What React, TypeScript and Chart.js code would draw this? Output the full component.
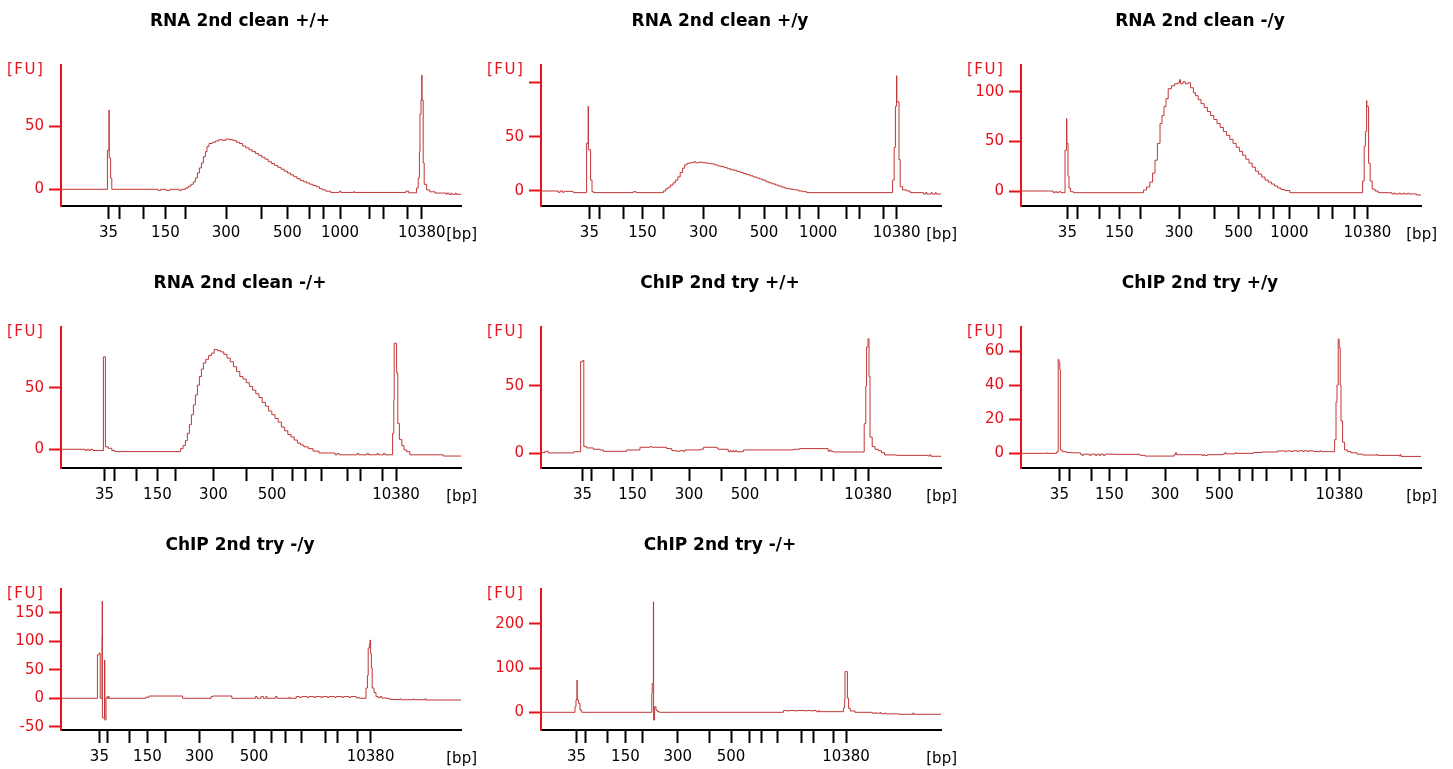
import React, { useEffect, useRef } from "react";
import { Chart, registerables } from "chart.js";

Chart.register(...registerables);

// ---------- DATA ----------
const titles = [
  "RNA 2nd clean +/+",
  "RNA 2nd clean +/y",
  "RNA 2nd clean -/y",
  "RNA 2nd clean -/+",
  "ChIP 2nd try +/+",
  "ChIP 2nd try +/y",
  "ChIP 2nd try -/y",
  "ChIP 2nd try -/+",
];

// ladder fragment sizes (bp)
const ladderSizes = [35, 50, 100, 150, 200, 300, 400, 500, 600, 700, 1000, 2000, 3000, 7000, 10380];
const labelledWith1000 = [35, 150, 300, 500, 1000, 10380];
const labelledWithout1000 = [35, 150, 300, 500, 10380];

// migration time (% of run) of each ladder fragment, per panel
const ladderRnaPP = [11.9, 14.5, 20.6, 26.1, 31.1, 41.25, 50, 56.6, 62.1, 65.6, 69.75, 77, 80.6, 86.5, 90.2];
const ladderRnaPY = [12.1, 14.5, 20.6, 25.4, 30.6, 40.6, 49.6, 55.75, 61.25, 64.6, 69.3, 76.25, 79.6, 85.6, 88.9];
const ladderRnaMY = [11.6, 14.1, 19.6, 24.6, 29.75, 39.5, 48.25, 54.4, 59.6, 63.1, 67.1, 74.25, 77.75, 83.25, 86.6];
const ladderRnaMP = [10.9, 13.25, 18.9, 24.1, 28.6, 38.1, 46.4, 52.75, 57.75, 61.1, 65.1, 71.6, 74.9, 80.4, 83.75];
const ladderChipPP = [10.4, 12.5, 18.1, 22.9, 27.5, 37, 45, 51, 56, 59.1, 63.5, 70, 73.1, 78.7, 81.8];
const ladderChipPY = [9.6, 12.1, 17.5, 22.1, 26.4, 36, 44.1, 49.6, 54.5, 57.75, 61.4, 67.5, 71, 76.4, 79.6];
const ladderChipMY = [9.6, 11.6, 17.1, 21.6, 26.2, 34.6, 42.75, 48.25, 52.5, 56.2, 60.2, 66.2, 69.2, 74.1, 77.4];
const ladderChipMP = [8.9, 11.2, 16.6, 21.1, 25.4, 34.2, 42.1, 47.5, 52.1, 55.2, 59.1, 65, 68.1, 73.1, 76.25];

// FU axis ranges and ticks
const yMins = [-13.3, -13.8, -15.1, -15.2, -10.9, -8.6, -55.5, -40];
const yMaxs = [99, 115.9, 126.9, 99.2, 93.8, 74.1, 191.4, 279];
const yTicksRnaPP = [0, 50];
const yTicksRnaPY = [0, 50, 100];
const yTicksRnaMY = [0, 50, 100];
const yTicksRnaMP = [0, 50];
const yTicksChipPP = [0, 50];
const yTicksChipPY = [0, 20, 40, 60];
const yTicksChipMY = [-50, 0, 50, 100, 150];
const yTicksChipMP = [0, 100, 200];
const yHiddenLabels = [[], [100], [], [], [], [], [], []];

// traces: [migration time (% of run), fluorescence (FU)]
const rnaPP: [number, number][] = [
  [0, 0], [11.6, 31], [12.0, 63], [12.05, 25], [12.4, 9], [12.7, 0],
  [24.3, -1], [24.9, 0], [26.3, -1], [27.2, 0], [29.6, -1], [30.1, 0],
  [31.1, 1], [31.8, 2.5], [32.5, 4], [33.1, 6], [33.6, 9], [34.1, 13], [34.6, 17], [35.1, 21], [35.6, 26],
  [36.1, 30], [36.5, 34], [37.0, 36.5], [37.8, 37.5], [38.6, 38.5], [39.4, 39.5], [40.4, 39], [41.2, 40],
  [42.2, 39.5], [43.0, 39], [43.8, 37.5], [44.6, 36.5], [45.4, 34.5], [46.2, 33], [47.0, 31.5], [47.8, 30],
  [48.6, 28.5], [49.4, 27], [50.2, 25.5], [51.0, 24], [51.8, 22], [52.6, 20.5], [53.4, 19], [54.2, 17.5],
  [55.0, 16], [55.8, 14.5], [56.6, 13], [57.4, 11.5], [58.2, 10], [59.0, 8.5], [59.8, 7], [60.6, 6],
  [61.4, 5], [62.2, 4], [63.0, 3], [63.8, 2], [64.6, 0.5], [65.4, -0.5], [66.2, -1.5], [67.4, -2.5],
  [69.6, -1.5], [70.0, -2.5], [73.2, -1.8], [73.4, -2.5], [86.2, -1.5], [86.9, -2.8],
  [88.9, 1], [89.3, 9], [89.6, 30], [89.75, 60], [90.0, 71], [90.2, 91], [90.25, 71], [90.55, 21], [90.8, 4],
  [91.4, -0.5], [92.2, -2], [93.5, -3], [96.3, -4], [96.5, -3], [97.0, -4], [97.5, -3], [97.7, -4],
  [98.6, -3], [98.8, -4], [100, -4],
];

const rnaPY: [number, number][] = [
  [0, 0], [4.3, -1.2], [4.8, 0], [5.4, -1.2], [5.8, -0.3], [8.0, -1.2], [8.3, -1.5],
  [11.4, 44], [11.8, 78], [11.85, 38], [12.4, 10], [12.75, -0.6], [13.1, -1.5],
  [23.1, -0.6], [23.75, -1.5],
  [30.6, 0], [31.2, 2], [31.8, 3.5], [32.4, 5.5], [33.0, 7.5], [33.6, 10], [34.2, 13], [34.8, 17], [35.4, 21],
  [35.9, 24], [36.5, 25.5], [37.3, 26], [38.2, 27], [38.6, 26], [39.5, 26.5], [40.4, 26], [41.4, 25.5],
  [42.4, 25], [43.4, 24], [44.2, 23], [45.0, 22.5], [45.8, 21.5], [46.6, 20.5], [47.4, 19.5], [48.2, 19],
  [49.0, 18], [49.8, 17], [50.6, 16], [51.4, 15], [52.2, 14], [53.0, 13], [53.8, 12], [54.6, 11], [55.4, 10],
  [56.2, 8.5], [57.0, 7.5], [57.8, 6.5], [58.6, 5.5], [59.4, 4.5], [60.2, 3.5], [61.0, 2.5], [61.8, 2],
  [62.6, 1.5], [63.4, 1], [64.4, 0], [65.4, -0.6], [66.4, -1.5],
  [87.9, 10], [88.3, 40], [88.6, 78], [88.9, 106], [88.95, 82], [89.5, 29], [89.8, 4], [90.4, 1], [91.4, 0],
  [92.3, -1.5], [95.6, -2.8], [96.2, -1.5], [96.5, -2.8], [97.5, -1.5], [97.8, -2.8], [98.6, -1.5],
  [98.8, -2.8], [100, -2.8],
];

const rnaMY: [number, number][] = [
  [0, 0], [8.1, -1.7], [8.5, -0.8], [9.0, -1.7], [9.4, -0.8], [10.0, -1.7],
  [11.0, 41], [11.4, 73], [11.45, 48], [11.75, 15], [12.0, 3], [12.4, -0.7], [13.1, -1.7],
  [30.6, 1], [31.4, 4], [32.2, 9], [32.9, 18], [33.5, 31], [34.1, 48], [34.75, 68], [35.25, 76], [35.75, 85],
  [36.25, 93], [36.8, 103], [37.6, 106], [38.4, 108], [39.2, 109], [39.6, 112], [39.9, 108], [40.5, 110],
  [41.1, 108], [41.7, 109], [42.4, 104], [43.1, 99], [43.6, 96], [44.3, 92], [45.0, 88], [45.8, 84],
  [46.6, 80], [47.4, 76], [48.2, 72], [49.0, 68], [49.8, 64], [50.6, 60], [51.4, 56], [52.2, 52], [53.0, 48],
  [53.8, 44], [54.6, 40], [55.4, 36], [56.2, 32], [57.0, 28], [57.8, 24], [58.6, 20], [59.4, 17],
  [60.2, 14], [61.0, 11], [61.8, 9], [62.6, 7], [63.4, 5], [64.2, 3], [65.0, 1.5], [66.0, 0.5], [67.2, -1.7],
  [85.4, 10], [85.8, 45], [86.1, 60], [86.4, 91], [86.45, 85], [86.9, 28], [87.3, 10], [87.8, 2], [88.5, 0],
  [89.3, -1.7], [92.7, -3], [93.2, -2], [93.5, -3], [94.5, -2.2], [94.8, -3], [95.5, -2.2], [95.8, -3],
  [96.7, -2.2], [97.0, -3], [98.9, -4], [100, -4],
];

const rnaMP: [number, number][] = [
  [0, 0], [6.1, -1], [6.5, 0], [7.0, -1], [7.4, 0], [8.0, -1],
  [10.6, 75], [11.1, 2], [11.8, 0.8], [12.7, -1], [13.5, -1.9],
  [29.9, 0.5], [30.5, 3], [31.1, 7], [31.6, 13], [32.1, 20], [32.6, 28], [33.1, 36], [33.6, 44], [34.1, 52],
  [34.6, 59], [35.1, 65], [35.6, 70], [36.2, 73], [36.9, 76], [37.6, 78], [38.3, 81], [39.1, 80], [39.9, 79],
  [40.7, 77], [41.5, 74], [42.3, 71], [43.1, 67], [43.9, 63], [44.7, 59], [45.5, 57], [46.3, 54], [47.1, 51],
  [47.9, 48], [48.7, 45], [49.5, 42], [50.3, 38], [51.1, 35], [51.9, 31], [52.7, 28], [53.5, 25], [54.3, 22],
  [55.1, 18], [55.9, 15], [56.7, 12], [57.5, 10], [58.3, 7.5], [59.1, 5], [59.9, 3.5], [60.7, 2], [61.8, 0.5],
  [63.0, -1.5], [64.5, -3], [68.5, -4.5], [69.0, -3.5], [69.6, -4.5], [74.0, -3.5], [74.4, -4.5],
  [76.5, -3.5], [76.9, -4.5], [79.0, -3.5], [79.4, -4.5], [80.6, -3.5], [81.0, -4.5],
  [82.9, 13], [83.2, 40], [83.3, 86], [83.9, 62], [84.2, 21], [84.6, 8], [85.2, 3], [85.75, -0.5], [86.4, -2],
  [87.2, -4.5], [95.6, -5.5], [100, -5.5],
];

const chipPP: [number, number][] = [
  [0, 0.5], [1.0, 1.5], [1.8, 0.3], [8.2, 1.2], [9.9, 68], [10.4, 69], [10.7, 5], [11.4, 4], [13.1, 3],
  [14.75, 2.5], [15.6, 1.5], [21.4, 2.5], [24.75, 4.5], [27.25, 5], [27.7, 4.5], [31.4, 3.5], [32.7, 2],
  [33.9, 1.5], [34.75, 2], [35.6, 1.5], [36.0, 2.5], [39.75, 3], [40.6, 4.5], [43.9, 4], [44.3, 3],
  [46.8, 1.2], [47.2, 2], [47.5, 1.2], [47.9, 2], [48.2, 1.2], [48.6, 2], [48.9, 1.2], [50.6, 2.5],
  [63.1, 3], [64.6, 3.5], [71.8, 1.5], [72.2, 2.5], [72.5, 1.5], [73.1, 1], [80.8, 22], [81.2, 50],
  [81.4, 79], [81.75, 85], [82.0, 57], [82.25, 12], [82.8, 5], [83.5, 3], [84.3, 2], [85.1, 0.5],
  [85.9, -1.2], [88.9, -1.5], [96.8, -2], [97.2, -1.2], [97.5, -2.2], [100, -2.5],
];

const chipPY: [number, number][] = [
  [0, 0], [6.5, 0.3], [6.6, 0], [8.9, 0.8], [9.3, 55], [9.5, 53], [9.7, 49], [9.85, 2], [10.3, 1], [11.4, 0.5],
  [12.5, 0.3], [14.9, -0.5], [15.3, -1.2], [15.6, -0.5], [17.1, -1.2], [17.5, -0.5], [18.6, -1.2], [19.0, -0.5],
  [19.6, -1.2], [19.9, -0.5], [20.6, -1.2], [21.0, -0.5], [23.3, -0.6], [29.8, -1.2], [31.0, -1.6],
  [38.3, -0.8], [38.6, 0.3], [38.9, -0.8], [45.3, -1.3], [45.7, -0.8], [46.0, -1.3], [46.6, -0.8],
  [50.6, -0.3], [51.0, 0.5], [51.2, -0.3], [53.5, 0.3], [53.8, 0], [58.1, 0.5], [60.3, 0.8], [64.2, 1.4],
  [66.0, 1], [66.4, 1.4], [67.5, 1.1], [68.0, 1.5], [69.0, 1.1], [69.4, 1.5], [70.5, 1.1], [70.8, 1.5],
  [71.6, 1.1], [72.0, 1.5], [73.1, 1], [74.7, 1.5], [75.0, 1],
  [78.4, 8], [78.75, 30], [79.0, 40], [79.3, 67], [79.55, 62], [79.8, 40], [80.0, 19], [80.4, 6.5],
  [80.9, 2], [81.6, 1], [82.5, 0.3], [84.0, -0.5], [85.5, -1], [88.9, -0.6], [89.1, -1.2], [94.5, -1.5],
  [94.8, -0.8], [95.0, -1.8], [100, -1.8],
];

const chipMY: [number, number][] = [
  [0, 0], [9.1, 76], [9.5, 79], [9.8, 0], [10.25, 108], [10.3, 170], [10.35, -34], [10.9, 67], [10.95, -38],
  [11.25, 0], [11.5, 3], [11.65, 0], [11.9, 3], [12.05, 0],
  [21.2, 2], [22.0, 4], [30.4, 0], [37.5, 3], [37.9, 4], [42.7, 0], [48.6, 3], [49.0, 0], [50.0, 3], [50.6, 0],
  [51.2, 3], [51.5, 0], [53.6, 3], [54.0, 0], [57.0, 2], [57.2, 0], [58.8, 3], [59.6, 1.5], [60.2, 3],
  [61.6, 1.5], [62.0, 3], [63.2, 1.5], [63.6, 3], [65.0, 1.5], [65.4, 3], [66.6, 1.5], [67.0, 3],
  [68.4, 1.5], [68.8, 3], [70.2, 1.5], [70.6, 3], [72.0, 1.5], [72.4, 3], [73.8, 1], [74.7, 0],
  [76.25, 18], [76.6, 40], [76.8, 88], [77.1, 95], [77.25, 102], [77.4, 78], [77.6, 53], [77.8, 18],
  [78.25, 10], [78.75, 3], [79.3, 1], [79.75, 3], [80.2, 0.5], [81.5, -0.5], [82.3, -2], [84.75, -1],
  [85.0, -2.5], [88.1, -1], [88.3, -2.5], [91.0, -1], [91.25, -3], [100, -3],
];

const chipMP: [number, number][] = [
  [0, 0], [8.5, 12.7], [8.75, 28], [9.0, 73], [9.05, 28], [9.4, 20], [9.75, 5], [10.2, 0],
  [27.7, 43], [27.8, 65], [28.1, 250], [28.15, -17.5], [28.4, 12.7], [28.75, 5], [29.1, 1.5], [29.6, 0],
  [60.6, 4], [61.5, 3], [62.0, 4], [63.5, 3], [63.9, 4], [66.0, 3], [66.4, 4], [67.6, 3], [68.0, 4],
  [68.8, 1.5], [69.4, 4], [69.6, 1.5],
  [75.6, 10], [75.9, 28], [76.0, 92], [76.6, 32], [76.9, 9], [77.3, 3], [78.5, 0], [82.8, -2], [83.5, -0.5],
  [83.7, -2], [84.8, -0.5], [85.0, -3], [86.0, -1.5], [86.2, -3.5], [89.4, -4.5], [93.0, -1.5], [93.2, -4.5],
  [100, -4.5],
];

const traces = [rnaPP, rnaPY, rnaMY, rnaMP, chipPP, chipPY, chipMY, chipMP];
const ladders = [ladderRnaPP, ladderRnaPY, ladderRnaMY, ladderRnaMP, ladderChipPP, ladderChipPY, ladderChipMY, ladderChipMP];
const yTickSets = [yTicksRnaPP, yTicksRnaPY, yTicksRnaMY, yTicksRnaMP, yTicksChipPP, yTicksChipPY, yTicksChipMY, yTicksChipMP];
const labelledSets = [labelledWith1000, labelledWith1000, labelledWith1000, labelledWithout1000, labelledWithout1000, labelledWithout1000, labelledWithout1000, labelledWithout1000];

// ---------- STYLE ----------
const FONT = "'DejaVu Sans', Verdana, sans-serif";
const AXIS_RED = "#e8121a";
const TRACE = "#c03636";
const W = 480;
const H = 245;

function Panel({ index, left, top }: { index: number; left: number; top: number }) {
  const ref = useRef<HTMLCanvasElement>(null);

  useEffect(() => {
    const canvas = ref.current;
    if (!canvas) return;
    const title = titles[index];
    const ladder = ladders[index];
    const shown = labelledSets[index];
    const xLabels = ladderSizes.map((s) => (shown.includes(s) ? String(s) : ""));
    const yTicks = yTickSets[index];
    const hidden = yHiddenLabels[index];
    const yLabels = yTicks.map((v) => (hidden.includes(v) ? "" : String(v)));

    const textPlugin = {
      id: "panelText",
      afterDraw(chart: any) {
        const ctx = chart.ctx as CanvasRenderingContext2D;
        ctx.save();
        ctx.textBaseline = "alphabetic";
        ctx.font = `bold 17px ${FONT}`;
        ctx.fillStyle = "#000";
        ctx.textAlign = "center";
        (ctx as any).letterSpacing = "0px";
        ctx.fillText(title, W / 2, 25.5);
        ctx.font = `15px ${FONT}`;
        ctx.fillStyle = AXIS_RED;
        ctx.textAlign = "left";
        (ctx as any).letterSpacing = "1.5px";
        ctx.fillText("[FU]", 7, 74);
        (ctx as any).letterSpacing = "0px";
        ctx.fillStyle = "#000";
        ctx.textAlign = "right";
        ctx.fillText("[bp]", 477, 239);
        ctx.restore();
      },
    };

    const chart = new Chart(canvas, {
      type: "line",
      data: {
        datasets: [
          {
            data: traces[index].map(([t, fu]) => ({ x: t, y: fu })),
            borderColor: TRACE,
            borderWidth: 1,
            pointRadius: 0,
            stepped: true,
            fill: false,
          },
        ],
      },
      options: {
        animation: false,
        responsive: false,
        events: [],
        layout: { padding: { top: 65, right: 19, left: 0, bottom: 0 } },
        plugins: {
          legend: { display: false },
          tooltip: { enabled: false },
          title: { display: false },
        },
        scales: {
          x: {
            type: "linear",
            min: 0,
            max: 100,
            afterBuildTicks: (s: any) => {
              s.ticks = ladder.map((v) => ({ value: v }));
            },
            afterFit: (s: any) => {
              s.height = 39;
            },
            ticks: {
              autoSkip: false,
              maxRotation: 0,
              minRotation: 0,
              padding: 5,
              color: "#000",
              font: { family: FONT, size: 15 },
              callback: (_v: any, i: number) => xLabels[i],
            },
            grid: {
              display: true,
              drawOnChartArea: false,
              drawTicks: true,
              tickLength: 13,
              tickWidth: 2,
              tickColor: "#000",
              color: "#000",
            },
            border: { display: true, color: "#000", width: 2 },
          },
          y: {
            type: "linear",
            min: yMins[index],
            max: yMaxs[index],
            afterBuildTicks: (s: any) => {
              s.ticks = yTicks.map((v) => ({ value: v }));
            },
            afterFit: (s: any) => {
              s.width = 61;
            },
            ticks: {
              autoSkip: false,
              padding: 5,
              color: AXIS_RED,
              font: { family: FONT, size: 15 },
              callback: (_v: any, i: number) => yLabels[i],
            },
            grid: {
              display: true,
              drawOnChartArea: false,
              drawTicks: true,
              tickLength: 12,
              tickWidth: 2,
              tickColor: AXIS_RED,
              color: AXIS_RED,
            },
            border: { display: true, color: AXIS_RED, width: 2 },
          },
        },
      },
      plugins: [textPlugin],
    } as any);

    return () => chart.destroy();
  }, [index]);

  return (
    <div style={{ position: "absolute", left, top, width: W, height: H }}>
      <canvas ref={ref} width={W} height={H} style={{ display: "block" }} />
    </div>
  );
}

const colOffsets = [0, 480, 960];
const rowOffsets = [0, 262, 524];

export default function App() {
  return (
    <div
      style={{
        position: "absolute",
        left: 0,
        top: 0,
        width: 1453,
        height: 769,
        background: "#fff",
        overflow: "hidden",
      }}
    >
      {titles.map((_, i) => (
        <Panel key={i} index={i} left={colOffsets[i % 3]} top={rowOffsets[Math.floor(i / 3)]} />
      ))}
    </div>
  );
}
